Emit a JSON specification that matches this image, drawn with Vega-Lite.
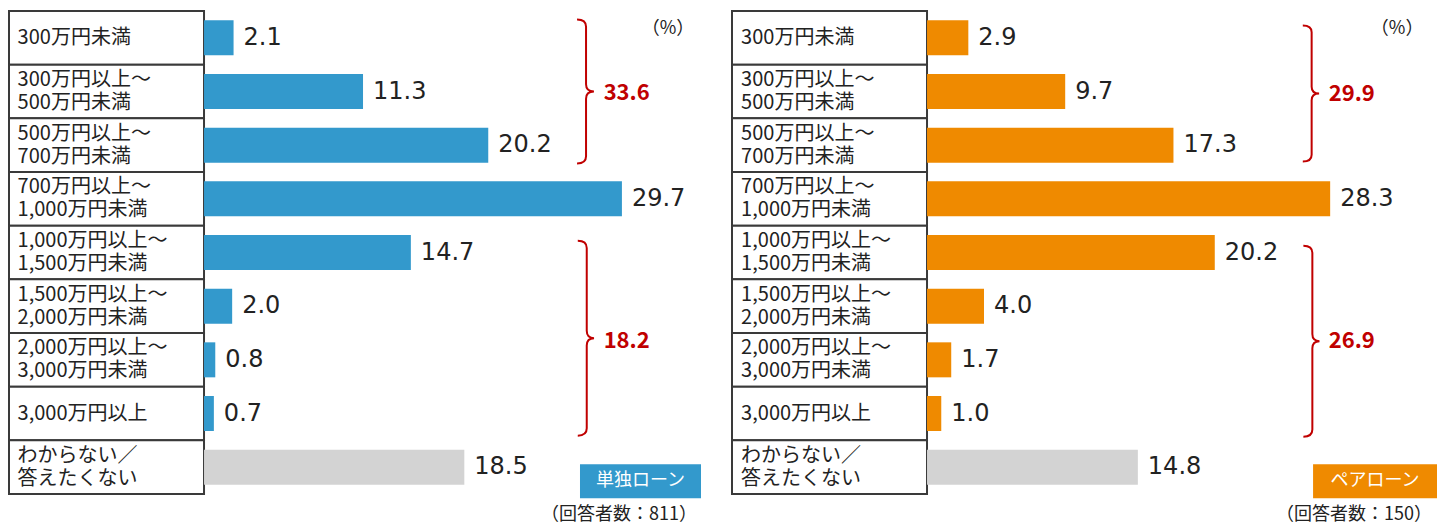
{
  "$schema": "https://vega.github.io/schema/vega-lite/v6.json",
  "background": "white",
  "padding": {"left": 8, "top": 10, "right": 4, "bottom": 0},
  "spacing": 30,
  "config": {
    "view": {"stroke": null},
    "font": "Noto Sans CJK JP",
    "text": {"font": "Noto Sans CJK JP"},
    "title": {"font": "Noto Sans CJK JP", "fontWeight": "normal", "color": "#222", "fontSize": 18}
  },
  "datasets": {
    "single": [
      {"cat": "300万円未満", "pct": 2.1},
      {"cat": "300万円以上～\n500万円未満", "pct": 11.3},
      {"cat": "500万円以上～\n700万円未満", "pct": 20.2},
      {"cat": "700万円以上～\n1,000万円未満", "pct": 29.7},
      {"cat": "1,000万円以上～\n1,500万円未満", "pct": 14.7},
      {"cat": "1,500万円以上～\n2,000万円未満", "pct": 2.0},
      {"cat": "2,000万円以上～\n3,000万円未満", "pct": 0.8},
      {"cat": "3,000万円以上", "pct": 0.7},
      {"cat": "わからない／\n答えたくない", "pct": 18.5}
    ],
    "pair": [
      {"cat": "300万円未満", "pct": 2.9},
      {"cat": "300万円以上～\n500万円未満", "pct": 9.7},
      {"cat": "500万円以上～\n700万円未満", "pct": 17.3},
      {"cat": "700万円以上～\n1,000万円未満", "pct": 28.3},
      {"cat": "1,000万円以上～\n1,500万円未満", "pct": 20.2},
      {"cat": "1,500万円以上～\n2,000万円未満", "pct": 4.0},
      {"cat": "2,000万円以上～\n3,000万円未満", "pct": 1.7},
      {"cat": "3,000万円以上", "pct": 1.0},
      {"cat": "わからない／\n答えたくない", "pct": 14.8}
    ],
    "single_totals": [
      {"group": "upper", "cat": "300万円以上～\n500万円未満", "total": 33.6},
      {"group": "lower", "cat": "1,500万円以上～\n2,000万円未満", "total": 18.2}
    ],
    "pair_totals": [
      {"group": "upper", "cat": "300万円以上～\n500万円未満", "total": 29.9},
      {"group": "lower", "cat": "1,500万円以上～\n2,000万円未満", "total": 26.9}
    ]
  },
  "hconcat": [
    {
      "width": 692,
      "height": 483,
      "title": {"text": "（回答者数：811）", "orient": "bottom", "anchor": "end", "offset": 8, "dx": -4},
      "data": {"name": "single"},
      "encoding": {
        "y": {
          "field": "cat",
          "type": "nominal",
          "axis": null,
          "scale": {
            "domain": ["300万円未満", "300万円以上～\n500万円未満", "500万円以上～\n700万円未満", "700万円以上～\n1,000万円未満", "1,000万円以上～\n1,500万円未満", "1,500万円以上～\n2,000万円未満", "2,000万円以上～\n3,000万円未満", "3,000万円以上", "わからない／\n答えたくない"],
            "paddingInner": 0,
            "paddingOuter": 0
          }
        }
      },
      "layer": [
        {
          "mark": {"type": "rect", "fill": "white", "stroke": "#3a3a3a", "strokeWidth": 2},
          "encoding": {
            "x": {"datum": -13.86, "type": "quantitative", "scale": {"domain": [-13.86, 35.32], "nice": false, "zero": false}, "axis": null},
            "x2": {"datum": 0}
          }
        },
        {
          "transform": [{"filter": "indexof(datum.cat, '\\n') < 0"}],
          "mark": {"type": "text", "align": "left", "baseline": "middle", "fontSize": 20, "color": "#222"},
          "encoding": {
            "x": {"datum": -13.25, "type": "quantitative"},
            "text": {"field": "cat"}
          }
        },
        {
          "transform": [{"filter": "indexof(datum.cat, '\\n') >= 0"}],
          "mark": {"type": "text", "align": "left", "baseline": "middle", "lineBreak": "\n", "lineHeight": 23, "dy": -11.5, "fontSize": 20, "color": "#222"},
          "encoding": {
            "x": {"datum": -13.25, "type": "quantitative"},
            "text": {"field": "cat"}
          }
        },
        {
          "mark": {"type": "bar", "height": 35},
          "encoding": {
            "x": {"field": "pct", "type": "quantitative"},
            "color": {"condition": {"test": "indexof(datum.cat, 'わからない') === 0", "value": "#d3d3d3"}, "value": "#3399cc"}
          }
        },
        {
          "mark": {"type": "text", "align": "left", "baseline": "middle", "dx": 10, "font": "DejaVu Sans", "fontSize": 24, "color": "#222"},
          "encoding": {
            "x": {"field": "pct", "type": "quantitative"},
            "text": {"field": "pct", "format": ".1f"}
          }
        },
        {
          "data": {"name": "single_totals"},
          "transform": [{"filter": "datum.group === 'upper'"}],
          "layer": [
            {
              "mark": {"type": "point", "shape": "M -0.125 -1 Q 0 -1 0 -0.9 L 0 -0.1 Q 0 0 0.11 0 Q 0 0 0 0.1 L 0 0.9 Q 0 1 -0.125 1", "size": 20736, "filled": false, "color": "#c00000", "strokeWidth": 2, "opacity": 1},
              "encoding": {"x": {"datum": 27.15, "type": "quantitative"}}
            },
            {
              "mark": {"type": "text", "align": "left", "baseline": "middle", "fontSize": 22, "fontWeight": "bold", "color": "#c00000", "yOffset": 1},
              "encoding": {"x": {"datum": 28.4, "type": "quantitative"}, "text": {"field": "total", "format": ".1f"}}
            }
          ]
        },
        {
          "data": {"name": "single_totals"},
          "transform": [{"filter": "datum.group === 'lower'"}],
          "layer": [
            {
              "mark": {"type": "point", "shape": "M -0.092 -1 Q 0 -1 0 -0.925 L 0 -0.075 Q 0 0 0.075 0 Q 0 0 0 0.075 L 0 0.925 Q 0 1 -0.092 1", "size": 38025, "filled": false, "color": "#c00000", "strokeWidth": 2, "opacity": 1, "yOffset": 32},
              "encoding": {"x": {"datum": 27.2, "type": "quantitative"}}
            },
            {
              "mark": {"type": "text", "align": "left", "baseline": "middle", "fontSize": 22, "fontWeight": "bold", "color": "#c00000", "yOffset": 35},
              "encoding": {"x": {"datum": 28.4, "type": "quantitative"}, "text": {"field": "total", "format": ".1f"}}
            }
          ]
        },
        {
          "data": {"values": [{"unit": "（%）"}]},
          "mark": {"type": "text", "baseline": "middle", "fontSize": 18, "color": "#222", "yOffset": -9},
          "encoding": {
            "x": {"datum": 32.98, "type": "quantitative"},
            "y": {"datum": "300万円未満"},
            "text": {"field": "unit"}
          }
        },
        {
          "data": {"values": [{"label": "単独ローン"}]},
          "layer": [
            {
              "mark": {"type": "bar", "height": 34, "yOffset": 14, "color": "#3399cc"},
              "encoding": {
                "x": {"datum": 26.72, "type": "quantitative"},
                "x2": {"datum": 35.32},
                "y": {"datum": "わからない／\n答えたくない"}
              }
            },
            {
              "mark": {"type": "text", "baseline": "middle", "fontSize": 18, "color": "white", "yOffset": 14},
              "encoding": {
                "x": {"datum": 31.02, "type": "quantitative"},
                "y": {"datum": "わからない／\n答えたくない"},
                "text": {"field": "label"}
              }
            }
          ]
        }
      ]
    },
    {
      "width": 705,
      "height": 483,
      "title": {"text": "（回答者数：150）", "orient": "bottom", "anchor": "end", "offset": 8, "dx": -5},
      "data": {"name": "pair"},
      "encoding": {
        "y": {
          "field": "cat",
          "type": "nominal",
          "axis": null,
          "scale": {
            "domain": ["300万円未満", "300万円以上～\n500万円未満", "500万円以上～\n700万円未満", "700万円以上～\n1,000万円未満", "1,000万円以上～\n1,500万円未満", "1,500万円以上～\n2,000万円未満", "2,000万円以上～\n3,000万円未満", "3,000万円以上", "わからない／\n答えたくない"],
            "paddingInner": 0,
            "paddingOuter": 0
          }
        }
      },
      "layer": [
        {
          "mark": {"type": "rect", "fill": "white", "stroke": "#3a3a3a", "strokeWidth": 2},
          "encoding": {
            "x": {"datum": -13.69, "type": "quantitative", "scale": {"domain": [-13.69, 35.8], "nice": false, "zero": false}, "axis": null},
            "x2": {"datum": 0}
          }
        },
        {
          "transform": [{"filter": "indexof(datum.cat, '\\n') < 0"}],
          "mark": {"type": "text", "align": "left", "baseline": "middle", "fontSize": 20, "color": "#222"},
          "encoding": {
            "x": {"datum": -13.05, "type": "quantitative"},
            "text": {"field": "cat"}
          }
        },
        {
          "transform": [{"filter": "indexof(datum.cat, '\\n') >= 0"}],
          "mark": {"type": "text", "align": "left", "baseline": "middle", "lineBreak": "\n", "lineHeight": 23, "dy": -11.5, "fontSize": 20, "color": "#222"},
          "encoding": {
            "x": {"datum": -13.05, "type": "quantitative"},
            "text": {"field": "cat"}
          }
        },
        {
          "mark": {"type": "bar", "height": 35},
          "encoding": {
            "x": {"field": "pct", "type": "quantitative"},
            "color": {"condition": {"test": "indexof(datum.cat, 'わからない') === 0", "value": "#d3d3d3"}, "value": "#ef8a00"}
          }
        },
        {
          "mark": {"type": "text", "align": "left", "baseline": "middle", "dx": 10, "font": "DejaVu Sans", "fontSize": 24, "color": "#222"},
          "encoding": {
            "x": {"field": "pct", "type": "quantitative"},
            "text": {"field": "pct", "format": ".1f"}
          }
        },
        {
          "data": {"name": "pair_totals"},
          "transform": [{"filter": "datum.group === 'upper'"}],
          "layer": [
            {
              "mark": {"type": "point", "shape": "M -0.13 -1 Q 0 -1 0 -0.9 L 0 -0.1 Q 0 0 0.11 0 Q 0 0 0 0.1 L 0 0.9 Q 0 1 -0.13 1", "size": 18496, "filled": false, "color": "#c00000", "strokeWidth": 2, "opacity": 1, "yOffset": 2},
              "encoding": {"x": {"datum": 27.0, "type": "quantitative"}}
            },
            {
              "mark": {"type": "text", "align": "left", "baseline": "middle", "fontSize": 22, "fontWeight": "bold", "color": "#c00000", "yOffset": 2},
              "encoding": {"x": {"datum": 28.2, "type": "quantitative"}, "text": {"field": "total", "format": ".1f"}}
            }
          ]
        },
        {
          "data": {"name": "pair_totals"},
          "transform": [{"filter": "datum.group === 'lower'"}],
          "layer": [
            {
              "mark": {"type": "point", "shape": "M -0.094 -1 Q 0 -1 0 -0.925 L 0 -0.075 Q 0 0 0.075 0 Q 0 0 0 0.075 L 0 0.925 Q 0 1 -0.094 1", "size": 36481, "filled": false, "color": "#c00000", "strokeWidth": 2, "opacity": 1, "yOffset": 35},
              "encoding": {"x": {"datum": 27.05, "type": "quantitative"}}
            },
            {
              "mark": {"type": "text", "align": "left", "baseline": "middle", "fontSize": 22, "fontWeight": "bold", "color": "#c00000", "yOffset": 35},
              "encoding": {"x": {"datum": 28.2, "type": "quantitative"}, "text": {"field": "total", "format": ".1f"}}
            }
          ]
        },
        {
          "data": {"values": [{"unit": "（%）"}]},
          "mark": {"type": "text", "baseline": "middle", "fontSize": 18, "color": "#222", "yOffset": -9},
          "encoding": {
            "x": {"datum": 33.0, "type": "quantitative"},
            "y": {"datum": "300万円未満"},
            "text": {"field": "unit"}
          }
        },
        {
          "data": {"values": [{"label": "ペアローン"}]},
          "layer": [
            {
              "mark": {"type": "bar", "height": 34, "yOffset": 14, "color": "#ef8a00"},
              "encoding": {
                "x": {"datum": 27.1, "type": "quantitative"},
                "x2": {"datum": 35.8},
                "y": {"datum": "わからない／\n答えたくない"}
              }
            },
            {
              "mark": {"type": "text", "baseline": "middle", "fontSize": 18, "color": "white", "yOffset": 14},
              "encoding": {
                "x": {"datum": 31.45, "type": "quantitative"},
                "y": {"datum": "わからない／\n答えたくない"},
                "text": {"field": "label"}
              }
            }
          ]
        }
      ]
    }
  ],
  "resolve": {"scale": {"x": "independent", "y": "independent"}}
}
